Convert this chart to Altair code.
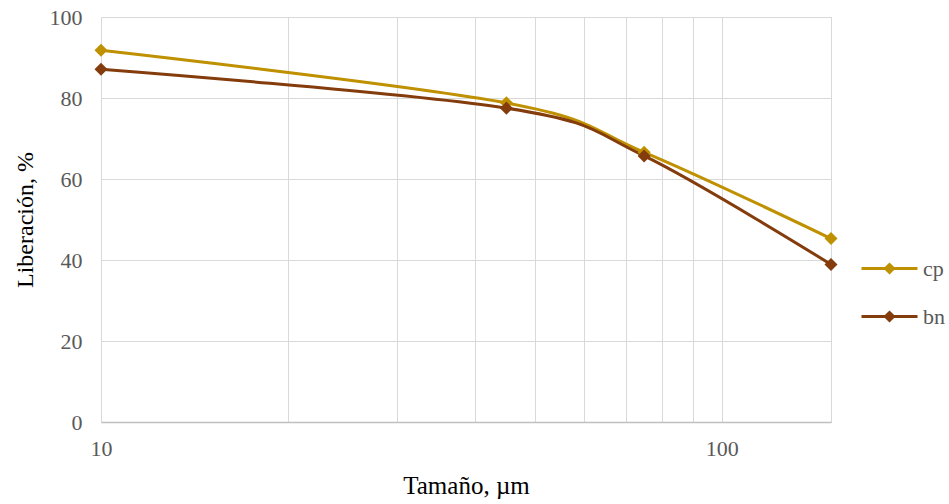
import altair as alt
import pandas as pd

sizes = [10, 45, 75, 150]
cp_values = [91.8, 78.8, 66.6, 45.3]
bn_values = [87.1, 77.5, 65.7, 38.9]
series_names = ["cp", "bn"]
series_colors = ["#BF9000", "#843C0C"]
grid_values = [10, 20, 30, 40, 50, 60, 70, 80, 90, 100]
y_ticks = [0, 20, 40, 60, 80, 100]

rows = []
for name, vals in zip(series_names, [cp_values, bn_values]):
    for s, v in zip(sizes, vals):
        rows.append({"size": s, "lib": v, "series": name})
df = pd.DataFrame(rows)

FONT = "Liberation Serif"
legend_path = "M-1.4,0H1.4M0,-0.2L0.2,0L0,0.2L-0.2,0Z"

x_enc = alt.X(
    "size:Q",
    scale=alt.Scale(type="log", domain=[10, 150], nice=False),
    axis=alt.Axis(
        values=grid_values,
        labelExpr="(datum.value == 10 || datum.value == 100) ? format(datum.value, 'd') : ''",
        title="Tamaño, µm",
        ticks=False,
        grid=True,
        domainColor="#bfbfbf",
        domainWidth=1.5,
        labelFont=FONT,
        labelFontSize=22,
        labelColor="#595959",
        labelPadding=16,
        titleFont=FONT,
        titlePadding=14,
        titleFontSize=25,
        labelFlush=False,
        labelOverlap=False,
    ),
)
y_enc = alt.Y(
    "lib:Q",
    scale=alt.Scale(domain=[0, 100], nice=False),
    axis=alt.Axis(
        values=y_ticks,
        title="Liberación, %",
        ticks=False,
        domain=False,
        grid=True,
        labelFont=FONT,
        labelFontSize=22,
        labelColor="#595959",
        labelPadding=19,
        titleFont=FONT,
        titleFontSize=24,
        titlePadding=12,
    ),
)
color_enc = alt.Color(
    "series:N",
    scale=alt.Scale(domain=series_names, range=series_colors),
    legend=alt.Legend(
        title=None,
        orient="none",
        legendX=767,
        legendY=230,
        symbolType=legend_path,
        symbolSize=1600,
        symbolStrokeWidth=3,
        labelFont=FONT,
        labelFontSize=22,
        labelColor="#595959",
        labelOffset=12,
        rowPadding=15,
    ),
)

lines = alt.Chart(df).mark_line(interpolate="cardinal", tension=0, strokeWidth=3).encode(
    x=x_enc, y=y_enc, color=color_enc
)
points = alt.Chart(df).mark_point(shape="diamond", filled=True, size=170, opacity=1).encode(
    x=x_enc, y=y_enc, color=color_enc
)

chart = (
    alt.layer(lines, points)
    .properties(
        width=730,
        height=405,
        autosize=alt.AutoSizeParams(type="none"),
        padding={"left": 101, "top": 17, "right": 118, "bottom": 82},
    )
    .configure(background="white", font=FONT)
    .configure_axis(
        labelFont=FONT,
        titleFont=FONT,
        labelColor="#595959",
        titleColor="#000000",
        titleFontWeight="normal",
        gridColor="#d9d9d9",
    )
    .configure_legend(labelFont=FONT)
    .configure_view(stroke="#d9d9d9", strokeWidth=1)
)

chart.save("out.html", embed_options={"renderer": "svg", "actions": False})
